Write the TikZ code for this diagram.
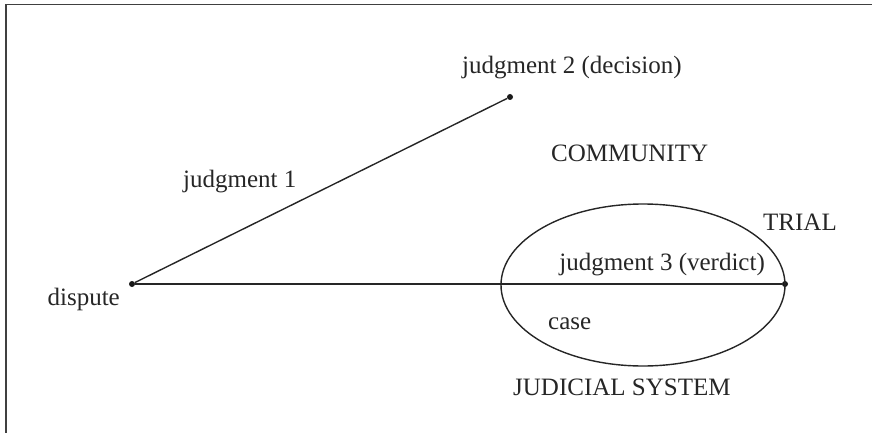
\documentclass[tikz,border=0pt]{standalone}
\usepackage{fontspec}
\setmainfont{Liberation Serif}
\begin{document}
\begin{tikzpicture}[x=1pt,y=-1pt,
  lbl/.style={inner sep=0pt,font=\fontsize{25}{27}\selectfont,text=black!85},
  dotpt/.style={circle,fill=black!90,inner sep=0pt,minimum size=6pt},
  link/.style={line width=1.4pt,draw=black!85},
  frameline/.style={line width=1.6pt,draw=black!75}]
\useasboundingbox (0,0) rectangle (872,433);
% open frame along the top and left edges
\coordinate (fbl) at (6,433);
\coordinate (ftl) at (6,4.5);
\coordinate (ftr) at (872,4.5);
\draw[frameline] (fbl) -- (ftl) -- (ftr);
% points
\node[dotpt] (d) at (132,284) {};
\node[dotpt] (j2) at (510,97) {};
\node[dotpt] (j3) at (785,284) {};
% trial ellipse
\draw[link] (643,285) ellipse [x radius=142, y radius=81];
% connectors
\draw[link] (d) -- (j2);
\draw[link] (d) -- (j3);
% labels
\node[lbl,anchor=base west] (tj2) at (462,74) {judgment 2 (decision)};
\node[lbl,anchor=base west] (tcom) at (551,161) {COMMUNITY};
\node[lbl,anchor=base west] (tj1) at (183,187) {judgment 1};
\node[lbl,anchor=base west] (ttr) at (763,230) {TRIAL};
\node[lbl,anchor=base east] (tj3) at (765,270) {judgment 3 (verdict)};
\node[lbl,anchor=base east] (tdis) at (120,305) {dispute};
\node[lbl,anchor=base west] (tcase) at (548,329) {case};
\node[lbl,anchor=base west] (tjs) at (513,395) {JUDICIAL SYSTEM};
\end{tikzpicture}
\end{document}
